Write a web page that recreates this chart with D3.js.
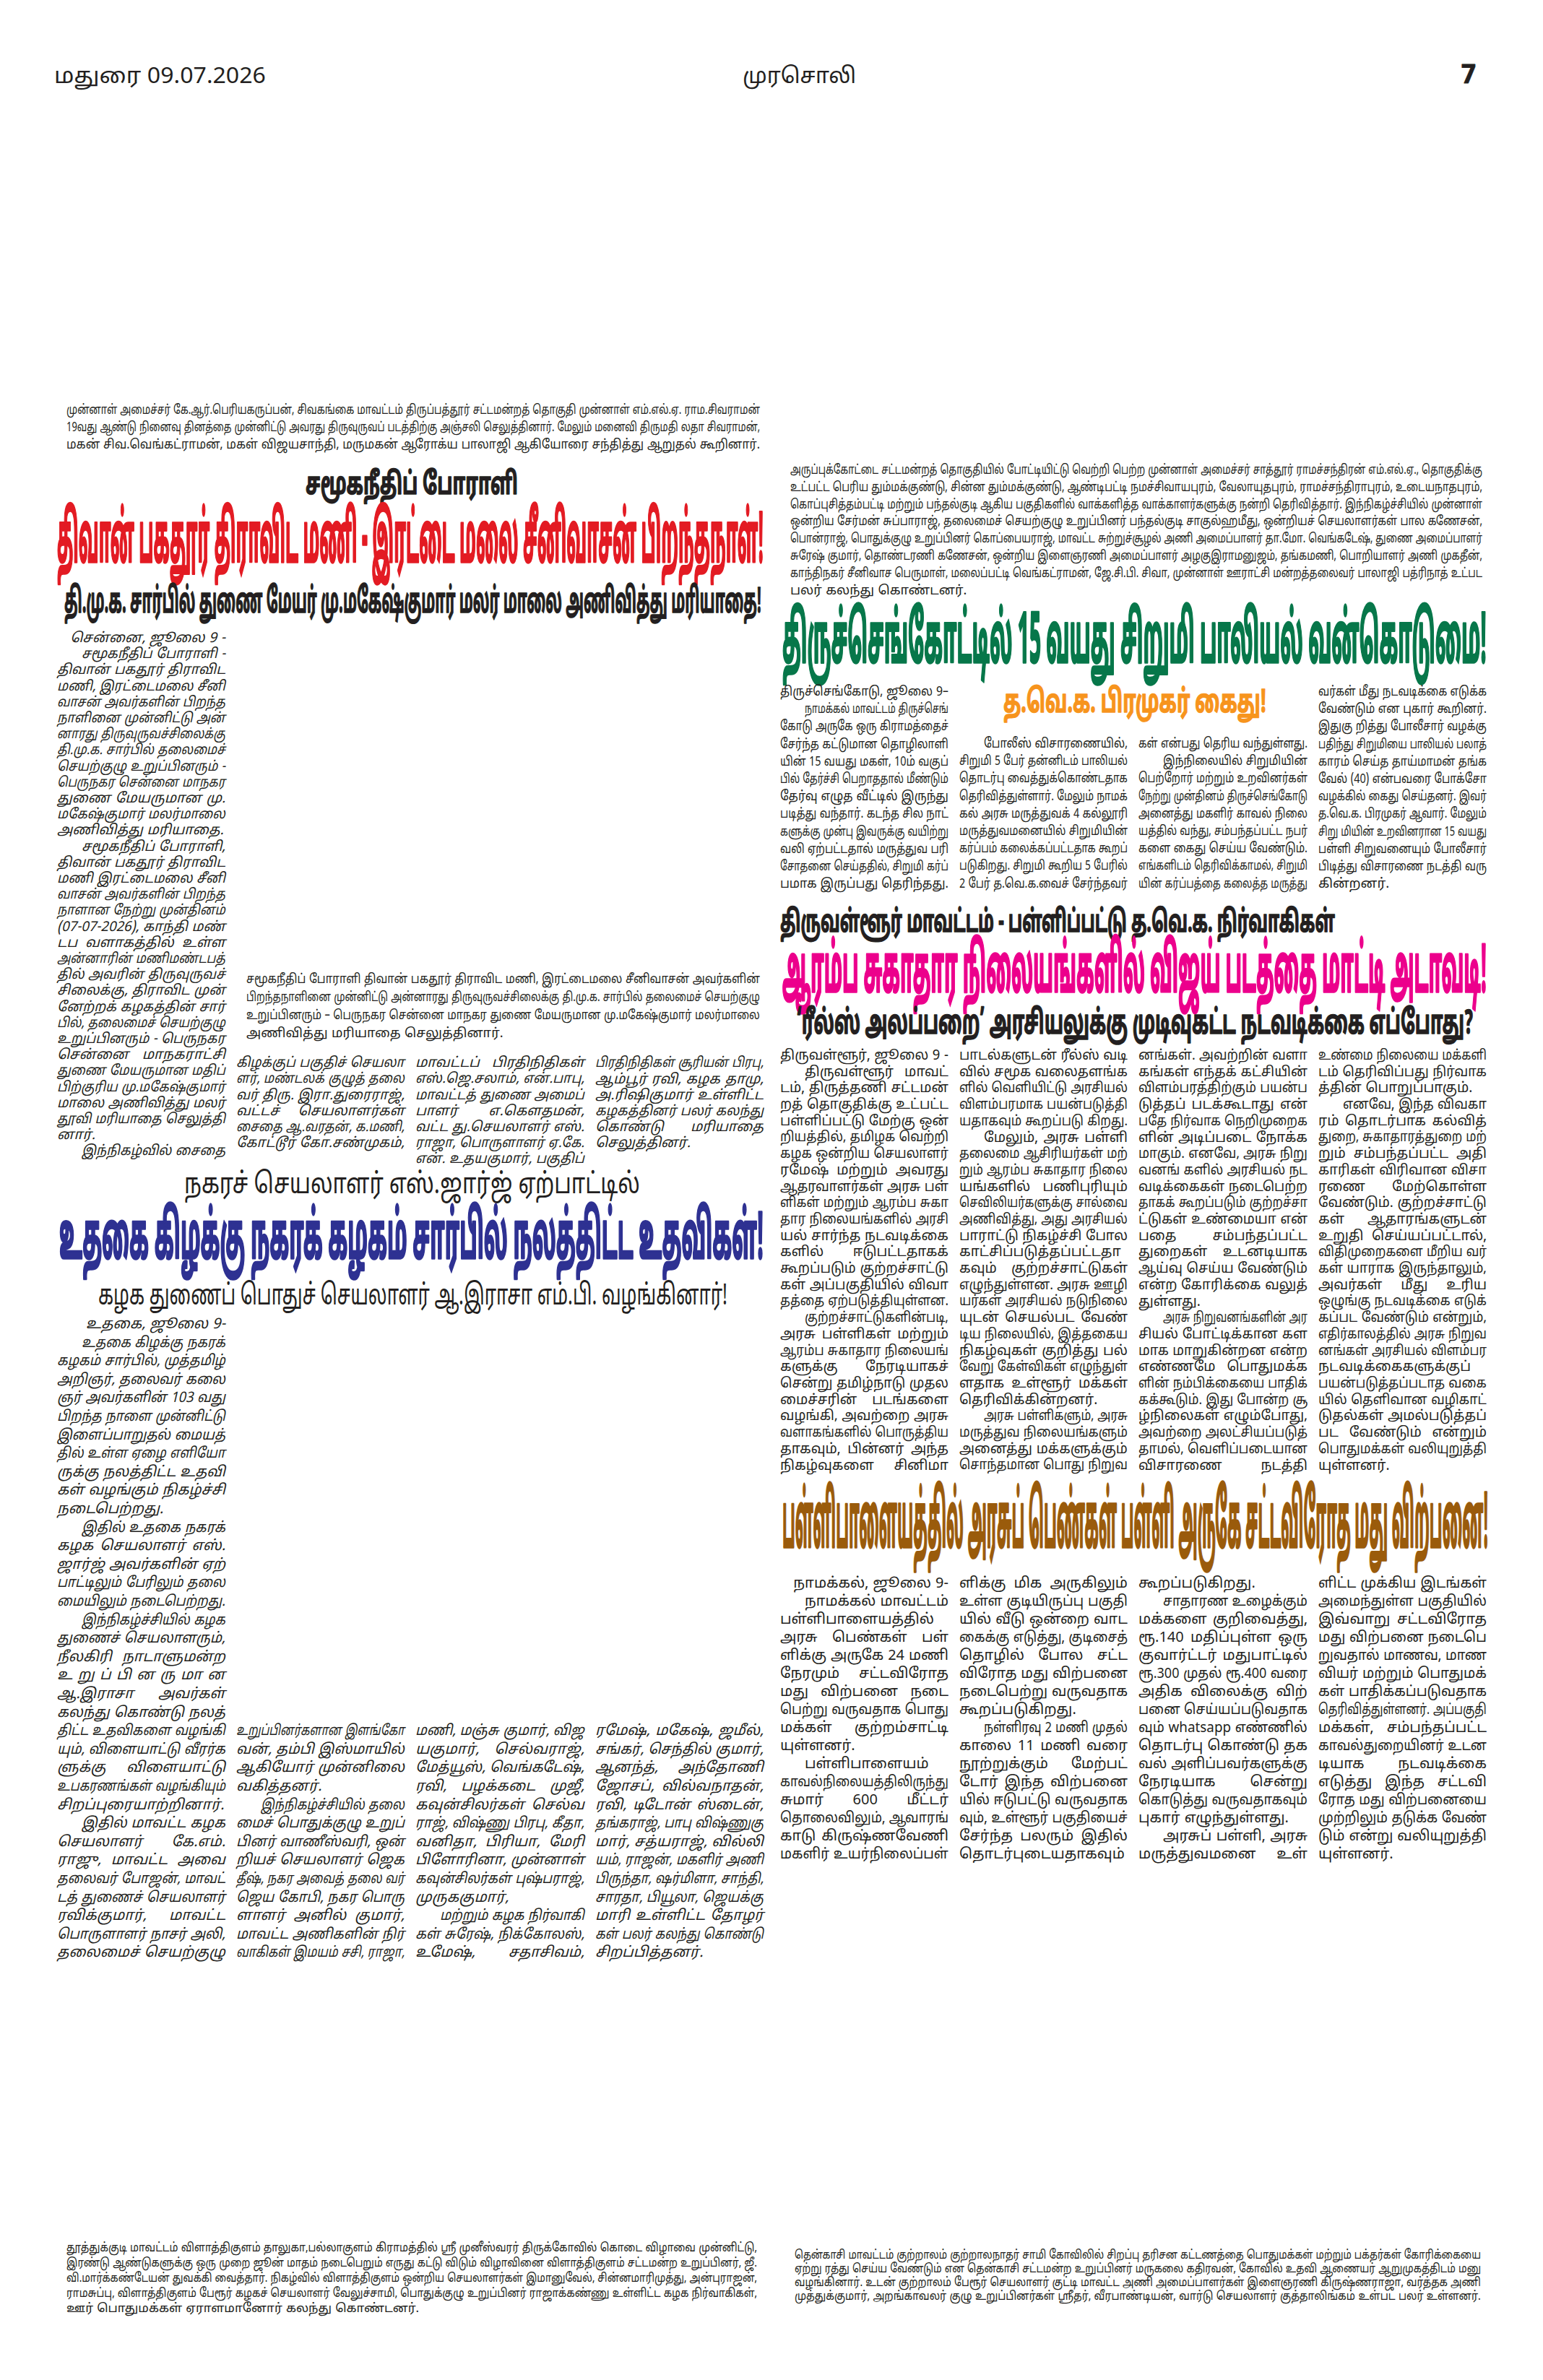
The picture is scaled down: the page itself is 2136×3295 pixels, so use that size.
<!DOCTYPE html>
<html><head><meta charset="utf-8">
<script src="https://cdn.jsdelivr.net/npm/d3@7"></script>
<style>
html,body{margin:0;padding:0;background:#fff;}
svg{display:block;}
text{font-family:'Noto Sans Tamil','Noto Sans Tamil UI','Lohit Tamil','Latha','Noto Serif Tamil','FreeSans',sans-serif;fill:#231f20;}
</style></head><body>
<svg id="page" width="2136" height="3295"></svg>
<script>
// ---- page texts ----
const masthead = ["மதுரை  09.07.2026", "முரசொலி", "7"];

const captionTopLeft = [
  "முன்னாள் அமைச்சர் கே.ஆர்.பெரியகருப்பன், சிவகங்கை மாவட்டம் திருப்பத்தூர் சட்டமன்றத் தொகுதி முன்னாள் எம்.எல்.ஏ. ராம.சிவராமன்",
  "19வது ஆண்டு நினைவு தினத்தை முன்னிட்டு அவரது திருவுருவப் படத்திற்கு அஞ்சலி செலுத்தினார். மேலும் மனைவி திருமதி லதா சிவராமன்,",
  "மகன் சிவ.வெங்கட்ராமன், மகள் விஜயசாந்தி, மருமகன் ஆரோக்ய பாலாஜி ஆகியோரை சந்தித்து ஆறுதல் கூறினார்.|"
];

const captionTopRight = [
  "அருப்புக்கோட்டை சட்டமன்றத் தொகுதியில் போட்டியிட்டு வெற்றி பெற்ற முன்னாள் அமைச்சர் சாத்தூர் ராமச்சந்திரன் எம்.எல்.ஏ., தொகுதிக்கு",
  "உட்பட்ட பெரிய தும்மக்குண்டு, சின்ன தும்மக்குண்டு, ஆண்டிபட்டி நமச்சிவாயபுரம், வேலாயுதபுரம், ராமச்சந்திராபுரம், உடையநாதபுரம்,",
  "கொப்புசித்தம்பட்டி மற்றும் பந்தல்குடி ஆகிய பகுதிகளில் வாக்களித்த வாக்காளர்களுக்கு நன்றி தெரிவித்தார். இந்நிகழ்ச்சியில் முன்னாள்",
  "ஒன்றிய சேர்மன் சுப்பாராஜ், தலைமைச் செயற்குழு உறுப்பினர் பந்தல்குடி சாகுல்ஹமீது, ஒன்றியச் செயலாளர்கள் பால கணேசன்,",
  "பொன்ராஜ், பொதுக்குழு உறுப்பினர் கொப்பையராஜ், மாவட்ட சுற்றுச்சூழல் அணி அமைப்பாளர் தா.மோ. வெங்கடேஷ், துணை அமைப்பாளர்",
  "சுரேஷ் குமார், தொண்டரணி கணேசன், ஒன்றிய இளைஞரணி அமைப்பாளர் அழகுஇராமனுஜம், தங்கமணி, பொறியாளர் அணி முகதீன்,",
  "காந்திநகர் சீனிவாச பெருமாள், மலைப்பட்டி வெங்கட்ராமன், ஜே.சி.பி. சிவா, முன்னாள் ஊராட்சி மன்றத்தலைவர் பாலாஜி பத்ரிநாத் உட்பட",
  "பலர் கலந்து கொண்டனர்.|"
];

const captionMiddle = [
  "சமூகநீதிப் போராளி  திவான் பகதூர் திராவிட மணி, இரட்டைமலை சீனிவாசன் அவர்களின்",
  "பிறந்தநாளினை முன்னிட்டு அன்னாரது திருவுருவச்சிலைக்கு தி.மு.க. சார்பில் தலைமைச் செயற்குழு",
  "உறுப்பினரும் – பெருநகர சென்னை மாநகர துணை மேயருமான மு.மகேஷ்குமார் மலர்மாலை",
  "அணிவித்து மரியாதை செலுத்தினார்.|"
];

const captionBottomLeft = [
  "தூத்துக்குடி மாவட்டம் விளாத்திகுளம் தாலுகா,பல்லாகுளம் கிராமத்தில் ஸ்ரீ முனீஸ்வரர் திருக்கோவில் கொடை விழாவை முன்னிட்டு,",
  "இரண்டு ஆண்டுகளுக்கு ஒரு முறை ஜூன் மாதம் நடைபெறும் எருது கட்டு விடும் விழாவினை விளாத்திகுளம் சட்டமன்ற உறுப்பினர், ஜீ.",
  "வி.மார்க்கண்டேயன் துவக்கி வைத்தார். நிகழ்வில் விளாத்திகுளம் ஒன்றிய செயலாளர்கள் இமானுவேல், சின்னமாரிமுத்து, அன்புராஜன்,",
  "ராமசுப்பு, விளாத்திகுளம் பேரூர் கழகச் செயலாளர் வேலுச்சாமி, பொதுக்குழு உறுப்பினர் ராஜாக்கண்ணு உள்ளிட்ட கழக நிர்வாகிகள்,",
  "ஊர் பொதுமக்கள் ஏராளமானோர் கலந்து கொண்டனர்.|"
];

const captionBottomRight = [
  "தென்காசி மாவட்டம் குற்றாலம் குற்றாலநாதர் சாமி கோவிலில் சிறப்பு தரிசன கட்டணத்தை பொதுமக்கள் மற்றும் பக்தர்கள் கோரிக்கையை",
  "ஏற்று ரத்து செய்ய வேண்டும் என தென்காசி சட்டமன்ற உறுப்பினர் மருகலை கதிரவன், கோவில் உதவி ஆணையர் ஆறுமுகத்திடம் மனு",
  "வழங்கினார். உடன் குற்றாலம் பேரூர் செயலாளர் குட்டி மாவட்ட அணி அமைப்பாளர்கள் இளைஞரணி கிருஷ்ணராஜா, வர்த்தக அணி",
  "முத்துக்குமார், அறங்காவலர் குழு உறுப்பினர்கள் ஸ்ரீதர், வீரபாண்டியன், வார்டு செயலாளர் குத்தாலிங்கம் உள்பட பலர் உள்ளனர்.|"
];

const headlines = {
  kickerA: "சமூகநீதிப் போராளி",
  mainA: "திவான் பகதூர் திராவிட மணி - இரட்டை மலை சீனிவாசன் பிறந்தநாள்!",
  subA: "தி.மு.க. சார்பில் துணை மேயர் மு.மகேஷ்குமார் மலர் மாலை அணிவித்து மரியாதை!",
  kickerB: "நகரச் செயலாளர் எஸ்.ஜார்ஜ் ஏற்பாட்டில்",
  mainB: "உதகை கிழக்கு  நகரக் கழகம் சார்பில் நலத்திட்ட உதவிகள்!",
  subB: "கழக துணைப் பொதுச் செயலாளர் ஆ.இராசா எம்.பி. வழங்கினார்!",
  mainC: "திருச்செங்கோட்டில் 15 வயது சிறுமி பாலியல் வன்கொடுமை!",
  subC: "த.வெ.க. பிரமுகர் கைது!",
  kickerD: "திருவள்ளூர் மாவட்டம் - பள்ளிப்பட்டு த.வெ.க. நிர்வாகிகள்",
  mainD: "ஆரம்ப சுகாதார நிலையங்களில் விஜய் படத்தை மாட்டி அடாவடி!",
  subD: "‘ரீல்ஸ் அலப்பறை’ அரசியலுக்கு முடிவுகட்ட நடவடிக்கை எப்போது?",
  mainE: "பள்ளிபாளையத்தில் அரசுப் பெண்கள் பள்ளி அருகே சட்டவிரோத மது விற்பனை!"
};

// article A : Rettaimalai Srinivasan
const articleA1 = [
  ">சென்னை, ஜூலை 9 -",
  "¶சமூகநீதிப் போராளி -", "திவான் பகதூர் திராவிட", "மணி, இரட்டைமலை சீனி", "வாசன் அவர்களின் பிறந்த",
  "நாளினை முன்னிட்டு அன்", "னாரது திருவுருவச்சிலைக்கு", "தி.மு.க. சார்பில் தலைமைச்", "செயற்குழு உறுப்பினரும் -",
  "பெருநகர சென்னை மாநகர", "துணை மேயருமான மு.", "மகேஷ்குமார் மலர்மாலை", "அணிவித்து மரியாதை.|",
  "¶சமூகநீதிப் போராளி,", "திவான் பகதூர் திராவிட", "மணி இரட்டைமலை சீனி", "வாசன் அவர்களின் பிறந்த",
  "நாளான நேற்று முன்தினம்", "(07-07-2026), காந்தி மண்", "டப வளாகத்தில் உள்ள", "அன்னாரின் மணிமண்டபத்",
  "தில் அவரின் திருவுருவச்", "சிலைக்கு, திராவிட முன்", "னேற்றக் கழகத்தின் சார்", "பில், தலைமைச் செயற்குழு",
  "உறுப்பினரும் - பெருநகர", "சென்னை மாநகராட்சி", "துணை மேயருமான மதிப்", "பிற்குரிய மு.மகேஷ்குமார்",
  "மாலை அணிவித்து மலர்", "தூவி மரியாதை செலுத்தி", "னார்.|", "¶இந்நிகழ்வில் சைதை"
];
const articleA2 = ["கிழக்குப் பகுதிச் செயலா", "ளர், மண்டலக் குழுத் தலை", "வர் திரு. இரா.துரைராஜ்,", "வட்டச் செயலாளர்கள்", "சைதை ஆ.வரதன், க.மணி,", "கோட்டூர் கோ.சண்முகம்,"];
const articleA3 = ["மாவட்டப் பிரதிநிதிகள்", "எஸ்.ஜெ.சலாம், என்.பாபு,", "மாவட்டத் துணை அமைப்", "பாளர் எ.கௌதமன்,", "வட்ட து.செயலாளர் எஸ்.", "ராஜா, பொருளாளர் ஏ.கே.", "என். உதயகுமார், பகுதிப்"];
const articleA4 = ["பிரதிநிதிகள் சூரியன் பிரபு,", "ஆம்பூர் ரவி, கழக தாமு,", "அ.ரிஷிகுமார் உள்ளிட்ட", "கழகத்தினர் பலர் கலந்து", "கொண்டு மரியாதை", "செலுத்தினர்.|"];

// article B : Udhagai
const articleB1 = [
  ">உதகை, ஜூலை 9-",
  "¶உதகை கிழக்கு நகரக்", "கழகம் சார்பில், முத்தமிழ்", "அறிஞர், தலைவர் கலை", "ஞர் அவர்களின் 103 வது",
  "பிறந்த நாளை முன்னிட்டு", "இளைப்பாறுதல் மையத்", "தில் உள்ள ஏழை எளியோ", "ருக்கு நலத்திட்ட உதவி",
  "கள் வழங்கும் நிகழ்ச்சி", "நடைபெற்றது.|",
  "¶இதில் உதகை நகரக்", "கழக செயலாளர் எஸ்.", "ஜார்ஜ் அவர்களின் ஏற்", "பாட்டிலும் பேரிலும் தலை", "மையிலும் நடைபெற்றது.|",
  "¶இந்நிகழ்ச்சியில் கழக", "துணைச் செயலாளரும்,", "நீலகிரி நாடாளுமன்ற", "உ று ப் பி ன ரு மா ன", "ஆ.இராசா அவர்கள்",
  "கலந்து கொண்டு நலத்", "திட்ட உதவிகளை வழங்கி", "யும், விளையாட்டு வீரர்க", "ளுக்கு விளையாட்டு",
  "உபகரணங்கள் வழங்கியும்", "சிறப்புரையாற்றினார்.|",
  "¶இதில் மாவட்ட கழக", "செயலாளர் கே.எம்.", "ராஜு, மாவட்ட அவை", "தலைவர் போஜன், மாவட்", "டத் துணைச் செயலாளர்",
  "ரவிக்குமார், மாவட்ட", "பொருளாளர் நாசர் அலி,", "தலைமைச் செயற்குழு"
];
const articleB2 = ["உறுப்பினர்களான இளங்கோ", "வன், தம்பி இஸ்மாயில்", "ஆகியோர் முன்னிலை", "வகித்தனர்.|", "¶இந்நிகழ்ச்சியில் தலை", "மைச் பொதுக்குழு உறுப்", "பினர் வாணீஸ்வரி, ஒன்", "றியச் செயலாளர் ஜெக", "தீஷ், நகர அவைத் தலை வர்", "ஜெய கோபி, நகர பொரு", "ளாளர் அனில் குமார்,", "மாவட்ட அணிகளின் நிர்", "வாகிகள் இமயம் சசி, ராஜா,"];
const articleB3 = ["மணி, மஞ்சு குமார், விஜ", "யகுமார், செல்வராஜ்,", "மேத்யூஸ், வெங்கடேஷ்,", "ரவி, பழக்கடை முஜீ,", "கவுன்சிலர்கள் செல்வ", "ராஜ், விஷ்ணு பிரபு, கீதா,", "வனிதா, பிரியா, மேரி", "பிளோரினா, முன்னாள்", "கவுன்சிலர்கள் புஷ்பராஜ்,", "முருககுமார்,|", "¶மற்றும் கழக நிர்வாகி", "கள் சுரேஷ், நிக்கோலஸ்,", "உமேஷ், சதாசிவம்,"];
const articleB4 = ["ரமேஷ், மகேஷ், ஜமீல்,", "சங்கர், செந்தில் குமார்,", "ஆனந்த், அந்தோணி", "ஜோசப், வில்வநாதன்,", "ரவி, டிடோன் ஸ்டைன்,", "தங்கராஜ், பாபு விஷ்ணுகு", "மார், சத்யராஜ், வில்லி", "யம், ராஜன், மகளிர் அணி", "பிருந்தா, ஷர்மிளா, சாந்தி,", "சாரதா, பியூலா, ஜெயக்கு", "மாரி உள்ளிட்ட தோழர்", "கள் பலர் கலந்து கொண்டு", "சிறப்பித்தனர்.|"];

// article C : Tiruchengode
const articleC1 = [">திருச்செங்கோடு, ஜூலை 9–", "¶நாமக்கல் மாவட்டம் திருச்செங்", "கோடு அருகே ஒரு கிராமத்தைச்", "சேர்ந்த கட்டுமான தொழிலாளி", "யின் 15 வயது மகள், 10ம் வகுப்", "பில் தேர்ச்சி பெறாததால் மீண்டும்", "தேர்வு எழுத வீட்டில் இருந்து", "படித்து வந்தார். கடந்த சில நாட்", "களுக்கு முன்பு இவருக்கு வயிற்று", "வலி ஏற்பட்டதால் மருத்துவ பரி", "சோதனை செய்ததில், சிறுமி கர்ப்", "பமாக இருப்பது தெரிந்தது.|"];
const articleC2 = ["¶போலீஸ் விசாரணையில்,", "சிறுமி 5 பேர் தன்னிடம் பாலியல்", "தொடர்பு வைத்துக்கொண்டதாக", "தெரிவித்துள்ளார். மேலும் நாமக்", "கல் அரசு மருத்துவக் 4 கல்லூரி", "மருத்துவமனையில் சிறுமியின்", "கர்ப்பம் கலைக்கப்பட்டதாக கூறப்", "படுகிறது. சிறுமி கூறிய 5 பேரில்", "2 பேர் த.வெ.க.வைச் சேர்ந்தவர்"];
const articleC3 = ["கள் என்பது தெரிய வந்துள்ளது.|", "¶இந்நிலையில் சிறுமியின்", "பெற்றோர் மற்றும் உறவினர்கள்", "நேற்று முன்தினம் திருச்செங்கோடு", "அனைத்து மகளிர் காவல் நிலை", "யத்தில் வந்து, சம்பந்தப்பட்ட நபர்", "களை கைது செய்ய வேண்டும்.", "எங்களிடம் தெரிவிக்காமல், சிறுமி", "யின் கர்ப்பத்தை கலைத்த மருத்து"];
const articleC4 = ["வர்கள் மீது நடவடிக்கை எடுக்க", "வேண்டும் என புகார் கூறினர்.", "இதுகு றித்து போலீசார் வழக்கு", "பதிந்து சிறுமியை பாலியல் பலாத்", "காரம் செய்த தாய்மாமன் தங்க", "வேல் (40) என்பவரை போக்சோ", "வழக்கில் கைது செய்தனர். இவர்", "த.வெ.க. பிரமுகர் ஆவார். மேலும்", "சிறு மியின் உறவினரான 15 வயது", "பள்ளி சிறுவனையும் போலீசார்", "பிடித்து விசாரணை நடத்தி வரு", "கின்றனர்.|"];

// article D : Tiruvallur
const articleD1 = [">திருவள்ளூர், ஜூலை 9 -", "¶திருவள்ளூர் மாவட்", "டம், திருத்தணி சட்டமன்", "றத் தொகுதிக்கு உட்பட்ட", "பள்ளிப்பட்டு மேற்கு ஒன்", "றியத்தில், தமிழக வெற்றி", "கழக ஒன்றிய செயலாளர்", "ரமேஷ் மற்றும் அவரது", "ஆதரவாளர்கள் அரசு பள்", "ளிகள் மற்றும் ஆரம்ப சுகா", "தார நிலையங்களில் அரசி", "யல் சார்ந்த நடவடிக்கை", "களில் ஈடுபட்டதாகக்", "கூறப்படும் குற்றச்சாட்டு", "கள் அப்பகுதியில் விவா", "தத்தை ஏற்படுத்தியுள்ளன.|", "¶குற்றச்சாட்டுகளின்படி,", "அரசு பள்ளிகள் மற்றும்", "ஆரம்ப சுகாதார நிலையங்", "களுக்கு நேரடியாகச்", "சென்று தமிழ்நாடு முதல", "மைச்சரின் படங்களை", "வழங்கி, அவற்றை அரசு", "வளாகங்களில் பொருத்திய", "தாகவும், பின்னர் அந்த", "நிகழ்வுகளை சினிமா"];
const articleD2 = ["பாடல்களுடன் ரீல்ஸ் வடி", "வில் சமூக வலைதளங்க", "ளில் வெளியிட்டு அரசியல்", "விளம்பரமாக பயன்படுத்தி", "யதாகவும் கூறப்படு கிறது.|", "¶மேலும், அரசு பள்ளி", "தலைமை ஆசிரியர்கள் மற்", "றும் ஆரம்ப சுகாதார நிலை", "யங்களில் பணிபுரியும்", "செவிலியர்களுக்கு சால்வை", "அணிவித்து, அது அரசியல்", "பாராட்டு நிகழ்ச்சி போல", "காட்சிப்படுத்தப்பட்டதா", "கவும் குற்றச்சாட்டுகள்", "எழுந்துள்ளன. அரசு ஊழி", "யர்கள் அரசியல் நடுநிலை", "யுடன் செயல்பட வேண்", "டிய நிலையில், இத்தகைய", "நிகழ்வுகள் குறித்து பல்", "வேறு கேள்விகள் எழுந்துள்", "ளதாக உள்ளூர் மக்கள்", "தெரிவிக்கின்றனர்.|", "¶அரசு பள்ளிகளும், அரசு", "மருத்துவ நிலையங்களும்", "அனைத்து மக்களுக்கும்", "சொந்தமான பொது நிறுவ"];
const articleD3 = ["னங்கள். அவற்றின் வளா", "கங்கள் எந்தக் கட்சியின்", "விளம்பரத்திற்கும் பயன்ப", "டுத்தப் படக்கூடாது என்", "பதே நிர்வாக நெறிமுறைக", "ளின் அடிப்படை நோக்க", "மாகும். எனவே, அரசு நிறு", "வனங் களில் அரசியல் நட", "வடிக்கைகள் நடைபெற்ற", "தாகக் கூறப்படும் குற்றச்சா", "ட்டுகள் உண்மையா என்", "பதை சம்பந்தப்பட்ட", "துறைகள் உடனடியாக", "ஆய்வு செய்ய வேண்டும்", "என்ற கோரிக்கை வலுத்", "துள்ளது.|", "¶அரசு நிறுவனங்களின் அர", "சியல் போட்டிக்கான கள", "மாக மாறுகின்றன என்ற", "எண்ணமே பொதுமக்க", "ளின் நம்பிக்கையை பாதிக்", "கக்கூடும். இது போன்ற சூ", "ழ்நிலைகள் எழும்போது,", "அவற்றை அலட்சியப்படுத்", "தாமல், வெளிப்படையான", "விசாரணை நடத்தி"];
const articleD4 = ["உண்மை நிலையை மக்களி", "டம் தெரிவிப்பது நிர்வாக", "த்தின் பொறுப்பாகும்.|", "¶எனவே, இந்த விவகா", "ரம் தொடர்பாக கல்வித்", "துறை, சுகாதாரத்துறை மற்", "றும் சம்பந்தப்பட்ட அதி", "காரிகள் விரிவான விசா", "ரணை மேற்கொள்ள", "வேண்டும். குற்றச்சாட்டு", "கள் ஆதாரங்களுடன்", "உறுதி செய்யப்பட்டால்,", "விதிமுறைகளை மீறிய வர்", "கள் யாராக இருந்தாலும்,", "அவர்கள் மீது உரிய", "ஒழுங்கு நடவடிக்கை எடுக்", "கப்பட வேண்டும் என்றும்,", "எதிர்காலத்தில் அரசு நிறுவ", "னங்கள் அரசியல் விளம்பர", "நடவடிக்கைகளுக்குப்", "பயன்படுத்தப்படாத வகை", "யில் தெளிவான வழிகாட்", "டுதல்கள் அமல்படுத்தப்", "பட வேண்டும் என்றும்", "பொதுமக்கள் வலியுறுத்தி", "யுள்ளனர்.|"];

// article E : Pallipalayam
const articleE1 = [">நாமக்கல், ஜூலை 9-", "¶நாமக்கல் மாவட்டம்", "பள்ளிபாளையத்தில்", "அரசு பெண்கள் பள்", "ளிக்கு அருகே 24 மணி", "நேரமும் சட்டவிரோத", "மது விற்பனை நடை", "பெற்று வருவதாக பொது", "மக்கள் குற்றம்சாட்டி", "யுள்ளனர்.|", "¶பள்ளிபாளையம்", "காவல்நிலையத்திலிருந்து", "சுமார் 600 மீட்டர்", "தொலைவிலும், ஆவாரங்", "காடு கிருஷ்ணவேணி", "மகளிர் உயர்நிலைப்பள்"];
const articleE2 = ["ளிக்கு மிக அருகிலும்", "உள்ள குடியிருப்பு பகுதி", "யில் வீடு ஒன்றை வாட", "கைக்கு எடுத்து, குடிசைத்", "தொழில் போல சட்ட", "விரோத மது விற்பனை", "நடைபெற்று வருவதாக", "கூறப்படுகிறது.|", "¶நள்ளிரவு 2 மணி முதல்", "காலை 11 மணி வரை", "நூற்றுக்கும் மேற்பட்", "டோர் இந்த விற்பனை", "யில் ஈடுபட்டு வருவதாக", "வும், உள்ளூர் பகுதியைச்", "சேர்ந்த பலரும் இதில்", "தொடர்புடையதாகவும்"];
const articleE3 = ["கூறப்படுகிறது.|", "¶சாதாரண உழைக்கும்", "மக்களை குறிவைத்து,", "ரூ.140 மதிப்புள்ள ஒரு", "குவார்ட்டர் மதுபாட்டில்", "ரூ.300 முதல் ரூ.400 வரை", "அதிக விலைக்கு விற்", "பனை செய்யப்படுவதாக", "வும் whatsapp எண்ணில்", "தொடர்பு கொண்டு தக", "வல் அளிப்பவர்களுக்கு", "நேரடியாக சென்று", "கொடுத்து வருவதாகவும்", "புகார் எழுந்துள்ளது.|", "¶அரசுப் பள்ளி, அரசு", "மருத்துவமனை உள்"];
const articleE4 = ["ளிட்ட முக்கிய இடங்கள்", "அமைந்துள்ள பகுதியில்", "இவ்வாறு சட்டவிரோத", "மது விற்பனை நடைபெ", "றுவதால் மாணவ, மாண", "வியர் மற்றும் பொதுமக்", "கள் பாதிக்கப்படுவதாக", "தெரிவித்துள்ளனர். அப்பகுதி", "மக்கள், சம்பந்தப்பட்ட", "காவல்துறையினர் உடன", "டியாக நடவடிக்கை", "எடுத்து இந்த சட்டவி", "ரோத மது விற்பனையை", "முற்றிலும் தடுக்க வேண்", "டும் என்று வலியுறுத்தி", "யுள்ளனர்.|"];

// ---- layout ----
const svg = d3.select("#page");
const L = [[79, 312], [327, 560], [575, 809], [824, 1057]];
const R = [[1080, 1313], [1328, 1561], [1576, 1810], [1825, 2058]];

// justified line block: '>' right aligned, '¶' indented, trailing '|' ragged
function block(lines, o) {
  const g = svg.append("g")
    .attr("font-size", o.size)
    .attr("font-style", o.italic ? "italic" : "normal");
  lines.forEach((raw, i) => {
    let s = raw, right = false, ind = false, rag = false;
    if (s[0] === ">") { right = true; s = s.slice(1); }
    if (s[0] === "¶") { ind = true; s = s.slice(1); }
    if (s.endsWith("|")) { rag = true; s = s.slice(0, -1); }
    const y = o.y0 + i * o.lh;
    const x = o.x0 + (ind ? (o.indent || 34) : 0);
    const avail = o.x1 - x;
    const ws = s.split(" ").filter(d => d.length);
    const lg = g.append("g");
    const ts = lg.selectAll("text").data(ws).join("text").attr("y", y).text(d => d);
    const wd = ts.nodes().map(n => n.getComputedTextLength());
    const sum = d3.sum(wd), sp = o.size * 0.3;
    const nat = sum + sp * (ws.length - 1);
    let gap = sp, start = x, sx = 1;
    if (nat > avail) sx = avail / nat;
    else if (right) start = o.x1 - nat;
    else if (!rag && ws.length > 1) gap = (avail - sum) / (ws.length - 1);
    let cx = 0;
    const xs = wd.map(w => { const v = cx; cx += w + gap; return v; });
    ts.attr("x", (d, k) => xs[k]);
    lg.attr("transform", `translate(${start},0) scale(${sx},1)`);
  });
}

function head(str, o) {
  const t = svg.append("text")
    .attr("x", o.x0).attr("y", o.y)
    .attr("font-size", o.size)
    .attr("font-weight", o.weight || 700)
    .style("fill", o.color || "#231f20")
    .text(str);
  if (o.stroke) t.style("stroke", o.color || "#231f20").style("stroke-width", o.stroke).style("stroke-linejoin", "round");
  t.attr("textLength", o.x1 - o.x0).attr("lengthAdjust", "spacingAndGlyphs");
}

// masthead
head(masthead[0], { x0: 75, x1: 368, y: 115, size: 30, weight: 400 });
head(masthead[1], { x0: 1028, x1: 1185, y: 115, size: 30, weight: 400 });
head(masthead[2], { x0: 2023, x1: 2043, y: 115, size: 36, weight: 700, stroke: 1 });

// captions
block(captionTopLeft, { x0: 92, x1: 1052, y0: 573, lh: 24, size: 18 });
block(captionTopRight, { x0: 1094, x1: 2052, y0: 656, lh: 23.8, size: 18 });
block(captionMiddle, { x0: 341, x1: 1052, y0: 1361, lh: 25, size: 18 });
block(captionBottomLeft, { x0: 92, x1: 1048, y0: 3117, lh: 21, size: 17 });
block(captionBottomRight, { x0: 1100, x1: 2050, y0: 3127, lh: 19, size: 17 });

// article A
head(headlines.kickerA, { x0: 423, x1: 717, y: 684, size: 42, stroke: 1.5 });
head(headlines.mainA, { x0: 79, x1: 1057, y: 778, size: 96, color: "#e31b23", stroke: 3.5 });
head(headlines.subA, { x0: 89, x1: 1054, y: 848, size: 48, stroke: 1.5 });
block(articleA1, { x0: L[0][0], x1: L[0][1], y0: 889, lh: 22.2, size: 19, italic: true });
[articleA2, articleA3, articleA4].forEach((col, k) =>
  block(col, { x0: L[k + 1][0], x1: L[k + 1][1], y0: 889 + 26.5 * 22.2, lh: 22.2, size: 19, italic: true }));

// article B
head(headlines.kickerB, { x0: 255, x1: 886, y: 1652, size: 40, weight: 400 });
head(headlines.mainB, { x0: 82, x1: 1057, y: 1742, size: 90, color: "#2e3192", stroke: 3.5 });
head(headlines.subB, { x0: 136, x1: 1007, y: 1806, size: 40, weight: 400 });
block(articleB1, { x0: L[0][0], x1: L[0][1], y0: 1839, lh: 25.6, size: 20, italic: true });
[articleB2, articleB3, articleB4].forEach((col, k) =>
  block(col, { x0: L[k + 1][0], x1: L[k + 1][1], y0: 1839 + 22 * 25.6, lh: 25.6, size: 20, italic: true }));

// article C
head(headlines.mainC, { x0: 1083, x1: 2058, y: 917, size: 96, color: "#07774a", stroke: 3.5 });
head(headlines.subC, { x0: 1389, x1: 1753, y: 986, size: 44, color: "#f7941d", stroke: 1.5 });
block(articleC1, { x0: R[0][0], x1: R[0][1], y0: 963, lh: 24.2, size: 18.5 });
block(articleC2, { x0: R[1][0], x1: R[1][1], y0: 1035, lh: 24.2, size: 18.5 });
block(articleC3, { x0: R[2][0], x1: R[2][1], y0: 1035, lh: 24.2, size: 18.5 });
block(articleC4, { x0: R[3][0], x1: R[3][1], y0: 963, lh: 24.2, size: 18.5 });

// article D
head(headlines.kickerD, { x0: 1080, x1: 1848, y: 1290, size: 42, stroke: 1.5 });
head(headlines.mainD, { x0: 1083, x1: 2058, y: 1373, size: 92, color: "#ec008c", stroke: 3.5 });
head(headlines.subD, { x0: 1103, x1: 2039, y: 1431, size: 46, stroke: 1.5 });
[articleD1, articleD2, articleD3, articleD4].forEach((col, k) =>
  block(col, { x0: R[k][0], x1: R[k][1], y0: 1467, lh: 22.7, size: 19 }));

// article E
head(headlines.mainE, { x0: 1083, x1: 2060, y: 2142, size: 106, color: "#9a5b0b", stroke: 3.5 });
[articleE1, articleE2, articleE3, articleE4].forEach((col, k) =>
  block(col, { x0: R[k][0], x1: R[k][1], y0: 2198, lh: 25, size: 20 }));
</script>
</body></html>
